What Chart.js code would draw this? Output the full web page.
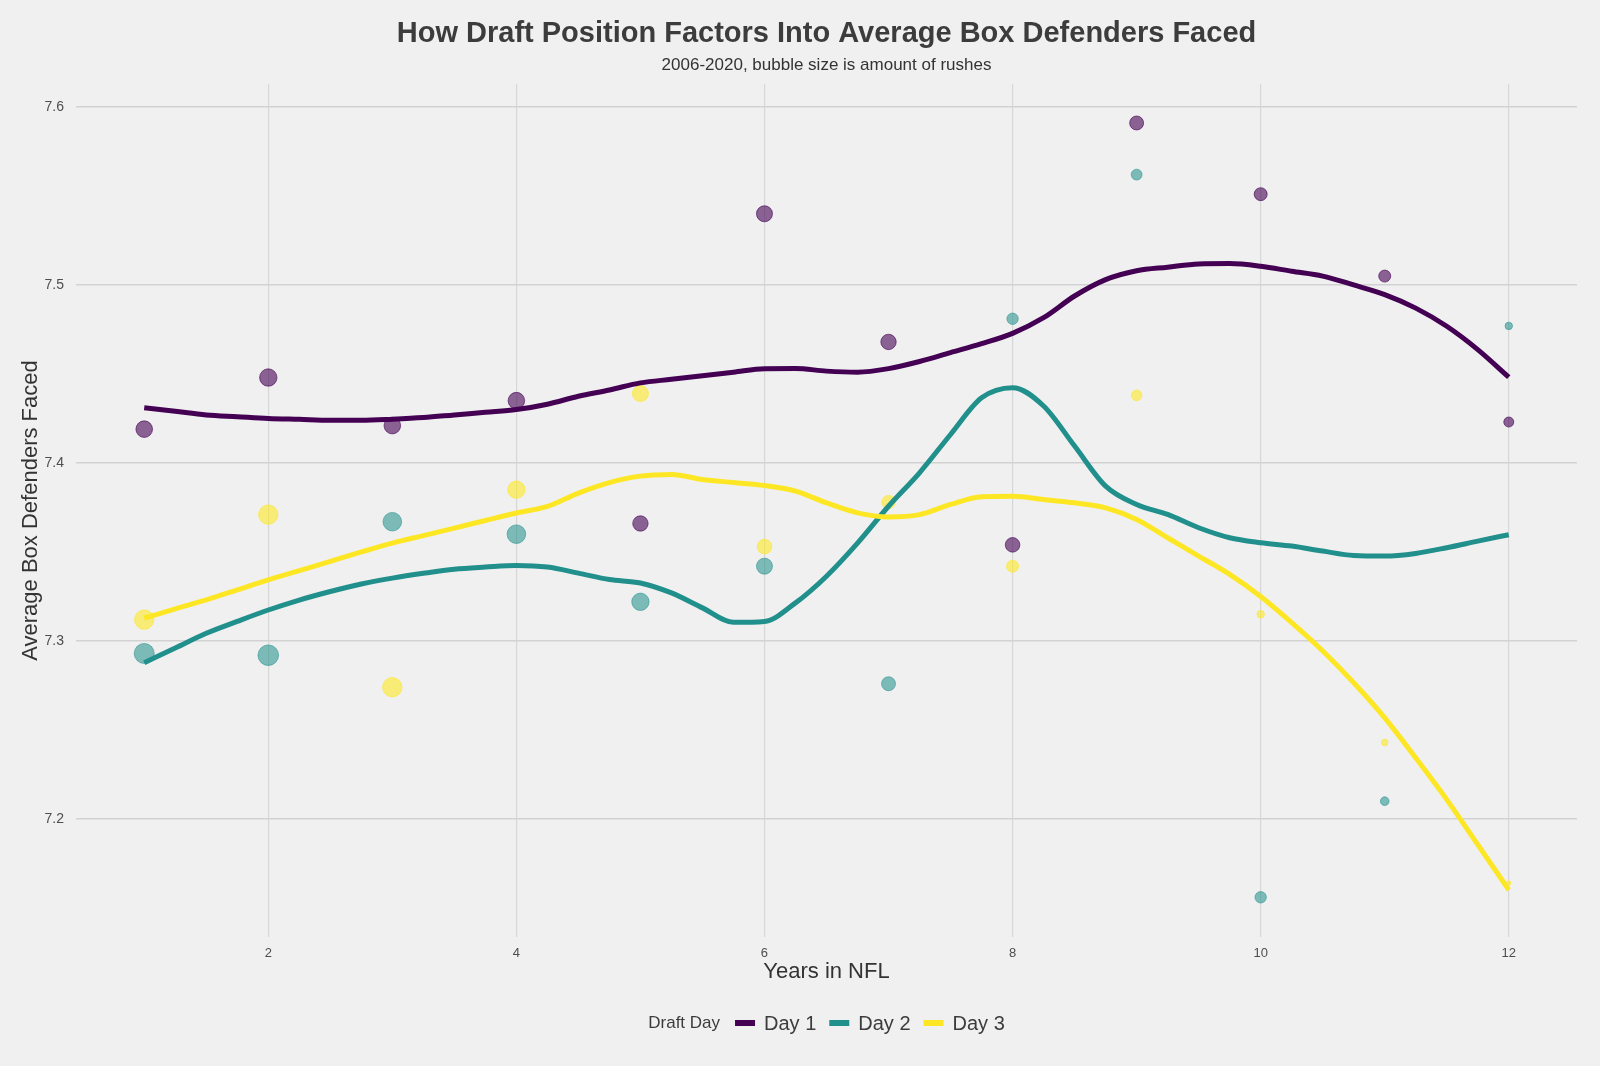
<!DOCTYPE html>
<html>
<head>
<meta charset="utf-8">
<title>How Draft Position Factors Into Average Box Defenders Faced</title>
<script src="https://cdn.jsdelivr.net/npm/chart.js@4.4.1/dist/chart.umd.min.js"></script>
<style>
  html, body { margin: 0; padding: 0; background: #f0f0f0; }
  canvas { display: block; }
</style>
</head>
<body>
<canvas id="boxChart" width="1600" height="1066"></canvas>
<script>
// Years in the league (x) for the bubbles
const years = [1, 2, 3, 4, 5, 6, 7, 8, 9, 10, 11, 12];

// Average box defenders faced, per draft day
const day1Box = [7.419, 7.448, 7.421, 7.435, 7.366, 7.540, 7.468, 7.354, 7.591, 7.551, 7.505, 7.423];
const day2Box = [7.293, 7.292, 7.367, 7.360, 7.322, 7.342, 7.276, 7.481, 7.562, 7.156, 7.210, 7.477];
const day3Box = [7.312, 7.371, 7.274, 7.385, 7.439, 7.353, 7.378, 7.342, 7.438, 7.315, 7.243, 7.164];

// Number of rushes (bubble size)
const day1Rushes = [1690, 1900, 1690, 1690, 1390, 1540, 1390, 1210, 1080, 890, 720, 435];
const day2Rushes = [2700, 2900, 2250, 2250, 1900, 1540, 1080, 620, 540, 620, 290, 200];
const day3Rushes = [2500, 2500, 2500, 1900, 1540, 1210, 960, 720, 510, 200, 150, 100];

// Smoothed trend lines
const smoothYears = [1, 1.25, 1.5, 1.75, 2, 2.25, 2.5, 2.75, 3, 3.25, 3.5, 3.75, 4, 4.25, 4.5, 4.75,
  5, 5.25, 5.5, 5.75, 6, 6.25, 6.5, 6.75, 7, 7.25, 7.5, 7.75, 8, 8.25, 8.5, 8.75,
  9, 9.25, 9.5, 9.75, 10, 10.25, 10.5, 10.75, 11, 11.25, 11.5, 11.75, 12];
const day1Smooth = [7.431, 7.429, 7.427, 7.426, 7.425, 7.4245, 7.424, 7.424, 7.4246, 7.4255, 7.427, 7.4285, 7.430, 7.433, 7.4375, 7.441,
  7.445, 7.447, 7.449, 7.451, 7.453, 7.4531, 7.4516, 7.451, 7.453, 7.457, 7.462, 7.467, 7.4728, 7.4816, 7.4938, 7.503,
  7.508, 7.510, 7.5118, 7.512, 7.5105, 7.5077, 7.505, 7.500, 7.4946, 7.487, 7.4768, 7.4637, 7.4482];
const day2Smooth = [7.2878, 7.296, 7.3043, 7.311, 7.3174, 7.323, 7.3278, 7.332, 7.3353, 7.338, 7.3403, 7.3415, 7.3424, 7.3415, 7.3381, 7.3345,
  7.3326, 7.327, 7.3186, 7.3105, 7.311, 7.3214, 7.3364, 7.355, 7.3757, 7.3945, 7.416, 7.4366, 7.4423, 7.432, 7.4095, 7.387,
  7.3767, 7.3711, 7.3636, 7.358, 7.3552, 7.3533, 7.3505, 7.348, 7.3477, 7.3492, 7.3524, 7.3561, 7.3597];
const day3Smooth = [7.3128, 7.318, 7.3231, 7.3287, 7.3343, 7.3395, 7.3447, 7.35, 7.355, 7.3592, 7.3634, 7.3677, 7.3719, 7.3756, 7.3831, 7.389,
  7.3926, 7.3935, 7.3907, 7.389, 7.3873, 7.3842, 7.3776, 7.372, 7.3697, 7.371, 7.3767, 7.381, 7.3813, 7.3795, 7.3776, 7.3748,
  7.3683, 7.358, 7.3477, 7.3374, 7.325, 7.3103, 7.2944, 7.2765, 7.2568, 7.2343, 7.2109, 7.1856, 7.1602];

// Tick labels
const xTicks = [2, 4, 6, 8, 10, 12];
const yTicks = [7.2, 7.3, 7.4, 7.5, 7.6];

const dayLabels = ['Day 1', 'Day 2', 'Day 3'];
const dayColors = ['#440154', '#21908C', '#FDE725'];
const dayFills = ['rgba(68,1,84,0.6)', 'rgba(33,144,140,0.56)', 'rgba(253,231,37,0.6)'];

const FONT = '"Liberation Sans", Arial, Helvetica, sans-serif';

const allRushes = day1Rushes.concat(day2Rushes, day3Rushes);
const minRush = Math.min(...allRushes);
const maxRush = Math.max(...allRushes);
function bubbleRadius(n) {
    return 2.2 + 8.1 * Math.sqrt((n - minRush) / (maxRush - minRush));
}

function bubbleSet(label, values, rushes, i) {
    return {
        type: 'scatter',
        label: label,
        data: years.map((x, k) => ({ x: x, y: values[k] })),
        pointRadius: ctx => bubbleRadius(rushes[ctx.dataIndex]),
        pointHoverRadius: ctx => bubbleRadius(rushes[ctx.dataIndex]),
        pointBackgroundColor: dayFills[i],
        pointBorderColor: dayFills[i],
        pointBorderWidth: 1,
        order: 10 + i
    };
}

function smoothSet(label, values, i) {
    return {
        type: 'line',
        label: label,
        data: smoothYears.map((x, k) => ({ x: x, y: values[k] })),
        borderColor: dayColors[i],
        borderWidth: 5,
        pointRadius: 0,
        fill: false,
        cubicInterpolationMode: 'monotone',
        order: 2 - i
    };
}

// Titles, background and the inline legend
const chartText = {
    id: 'chartText',
    beforeDraw(chart) {
        const ctx = chart.ctx;
        ctx.save();
        ctx.fillStyle = '#f0f0f0';
        ctx.fillRect(0, 0, chart.width, chart.height);
        ctx.restore();
    },
    afterDraw(chart) {
        const ctx = chart.ctx;
        const area = chart.chartArea;
        const cx = (area.left + area.right) / 2;
        ctx.save();
        ctx.textAlign = 'center';
        ctx.textBaseline = 'middle';
        ctx.fillStyle = '#3c3c3c';
        ctx.font = 'bold 29px ' + FONT;
        ctx.fillText('How Draft Position Factors Into Average Box Defenders Faced', cx, 34);
        ctx.fillStyle = '#333';
        ctx.font = '17px ' + FONT;
        ctx.fillText('2006-2020, bubble size is amount of rushes', cx, 65);

        // legend
        const y = 1023;
        const titleFont = '17px ' + FONT;
        const itemFont = '20px ' + FONT;
        ctx.font = titleFont;
        const titleW = ctx.measureText('Draft Day').width;
        ctx.font = itemFont;
        const itemW = dayLabels.map(t => ctx.measureText(t).width);
        const total = titleW + 15 + itemW.reduce((a, w) => a + 20 + 9 + w, 0) + 13 * 2;
        let x = cx - total / 2;
        ctx.textAlign = 'left';
        ctx.fillStyle = '#3c3c3c';
        ctx.font = titleFont;
        ctx.fillText('Draft Day', x, y);
        x += titleW + 15;
        dayLabels.forEach((t, i) => {
            ctx.fillStyle = dayColors[i];
            ctx.fillRect(x, y - 3, 20, 6);
            x += 29;
            ctx.fillStyle = '#3c3c3c';
            ctx.font = itemFont;
            ctx.fillText(t, x, y + 1);
            x += itemW[i] + 13;
        });
        ctx.restore();
    }
};

const ctx = document.getElementById('boxChart').getContext('2d');
new Chart(ctx, {
    data: {
        datasets: [
            smoothSet('Day 1', day1Smooth, 0),
            smoothSet('Day 2', day2Smooth, 1),
            smoothSet('Day 3', day3Smooth, 2),
            bubbleSet('Day 1', day1Box, day1Rushes, 0),
            bubbleSet('Day 2', day2Box, day2Rushes, 1),
            bubbleSet('Day 3', day3Box, day3Rushes, 2)
        ]
    },
    options: {
        responsive: false,
        animation: false,
        layout: { padding: { top: 84, right: 23, bottom: 0, left: 0 } },
        plugins: {
            legend: { display: false },
            tooltip: { enabled: false }
        },
        scales: {
            x: {
                type: 'linear',
                min: 0.45,
                max: 12.55,
                afterBuildTicks: scale => { scale.ticks = xTicks.map(v => ({ value: v })); },
                afterFit: scale => { scale.height = 129; },
                border: { display: false },
                grid: { color: '#d6d6d6', lineWidth: 1.2, drawTicks: false },
                ticks: { color: '#4d4d4d', font: { family: FONT, size: 13 }, padding: 9, maxRotation: 0 },
                title: {
                    display: true,
                    text: 'Years in NFL',
                    color: '#333',
                    font: { family: FONT, size: 22 },
                    padding: { top: 0, bottom: 81 }
                }
            },
            y: {
                type: 'linear',
                min: 7.1337,
                max: 7.6129,
                afterBuildTicks: scale => { scale.ticks = yTicks.map(v => ({ value: v })); },
                afterFit: scale => { scale.width = 76; },
                border: { display: false },
                grid: { color: '#d2d2d2', lineWidth: 1.6, drawTicks: false },
                ticks: { color: '#4d4d4d', font: { family: FONT, size: 14 }, padding: 12 },
                title: {
                    display: true,
                    text: 'Average Box Defenders Faced',
                    color: '#333',
                    font: { family: FONT, size: 22 },
                    padding: { top: 18, bottom: 0 }
                }
            }
        }
    },
    plugins: [chartText]
});
</script>
</body>
</html>
